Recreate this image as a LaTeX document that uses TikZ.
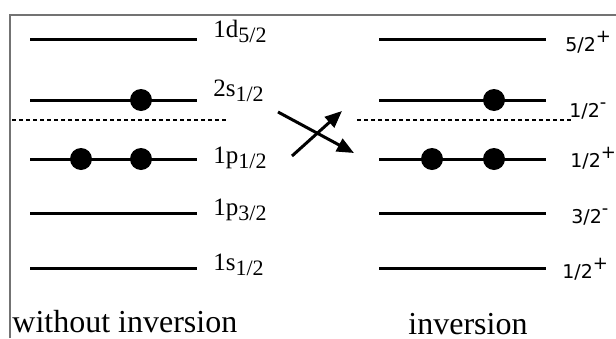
\documentclass[tikz,border=0pt]{standalone}
\usepackage{fontspec}
\setmainfont{Liberation Serif}
\newfontfamily\spinfont{DejaVu Sans}
\usetikzlibrary{arrows.meta}
\newcommand{\orbsub}[1]{\raisebox{-0.5ex}{\fontsize{11}{12}\selectfont #1}}
\newcommand{\spinsup}[1]{\raisebox{0.85ex}{\fontsize{9}{10}\selectfont #1}}
\tikzset{
  shell/.style={line width=1.5pt},
  fermi/.style={line width=0.9pt,dash pattern=on 2pt off 1.5pt},
  nucleon/.style={fill=black},
  orblabel/.style={anchor=base west,inner sep=0pt,font=\fontsize{12.5}{14}\selectfont},
  spinlabel/.style={anchor=base west,inner sep=0pt,font=\spinfont\fontsize{9.5}{11}\selectfont},
  crossarrow/.style={line width=1.5pt,-{Triangle[length=8.5pt,width=7pt]}},
  caption/.style={anchor=base west,inner sep=0pt,font=\fontsize{16}{18}\selectfont}
}

\begin{document}
\begin{tikzpicture}[x=0.5pt,y=-0.5pt]
  \useasboundingbox (0,0) rectangle (616,338);
  % frame
  \draw[line width=1pt,black!55] (10,338) -- (10,15) -- (616,15);
  % levels: y / left label baseline / left label / right label x / baseline / right label
  \foreach \y/\lb/\lname/\rx/\rb/\rname [count=\i] in {
      39/37/{1d\orbsub{5/2}}/565/51/{5/2\spinsup{+}},
      100/96/{2s\orbsub{1/2}}/569/117/{1/2\spinsup{-}},
      159/163/{1p\orbsub{1/2}}/570/167/{1/2\spinsup{+}},
      213/215/{1p\orbsub{3/2}}/571/223/{3/2\spinsup{-}},
      268/270/{1s\orbsub{1/2}}/562/278/{1/2\spinsup{+}}}{
    \draw[shell] (30,\y) coordinate (l\i a) -- (197,\y) coordinate (l\i b);
    \draw[shell] (379,\y) coordinate (r\i a) -- (546,\y) coordinate (r\i b);
    \node[orblabel] (lname\i) at (213,\lb) {\lname};
    \node[spinlabel] (rname\i) at (\rx,\rb) {\rname};
  }
  % fermi level
  \draw[fermi] (12,120) -- (227,120);
  \draw[fermi] (357,120) -- (572,120);
  % occupied states
  \fill[nucleon] (141,100) circle (11);
  \fill[nucleon] (81,159) circle (11);
  \fill[nucleon] (141,159) circle (11);
  \fill[nucleon] (494,100) circle (11);
  \fill[nucleon] (432,159) circle (11);
  \fill[nucleon] (494,159) circle (11);
  % crossing
  \coordinate (downstart) at (278,112);
  \coordinate (downend) at (354,153);
  \coordinate (upstart) at (292,156);
  \coordinate (upend) at (342,111);
  \draw[crossarrow] (downstart) -- (downend);
  \draw[crossarrow] (upstart) -- (upend);
  \node[caption] (without) at (12,332) {without inversion};
  \node[caption] (with) at (408,334) {inversion};
\end{tikzpicture}
\end{document}
